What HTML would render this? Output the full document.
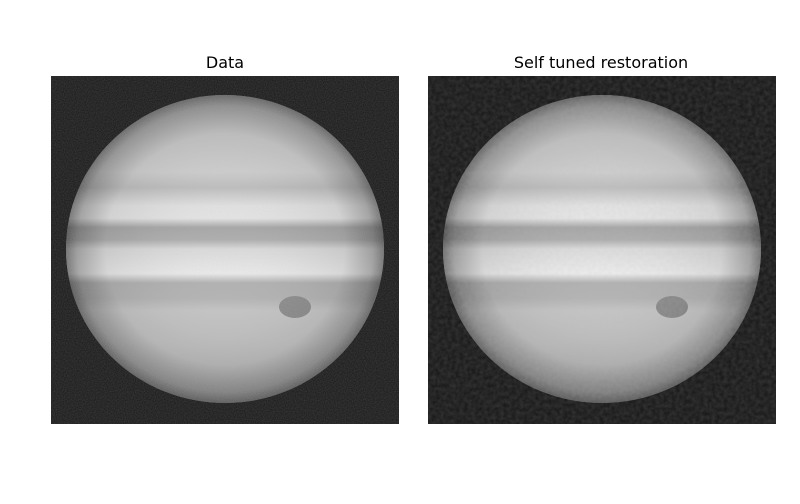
<!DOCTYPE html>
<html><head><meta charset="utf-8"><style>
body{margin:0;background:#fff;width:800px;height:500px;overflow:hidden;font-family:"DejaVu Sans",sans-serif}
</style></head><body>
<svg width="800" height="500" xmlns="http://www.w3.org/2000/svg">
<defs>
<radialGradient id="limb" cx="0.5" cy="0.5" r="0.5">
<stop offset="0" stop-color="#fff" stop-opacity="0"/>
<stop offset="0.75" stop-color="#000" stop-opacity="0.08"/>
<stop offset="0.93" stop-color="#000" stop-opacity="0.3"/>
<stop offset="1" stop-color="#000" stop-opacity="0.5"/>
</radialGradient>
<linearGradient id="bands" x1="0" y1="0" x2="0" y2="1">
<stop offset="0" stop-color="#c4c4c4"/>
<stop offset="0.25" stop-color="#d4d4d4"/>
<stop offset="0.30" stop-color="#c0c0c0"/>
<stop offset="0.36" stop-color="#e6e6e6"/>
<stop offset="0.40" stop-color="#e8e8e8"/>
<stop offset="0.43" stop-color="#a4a4a4"/>
<stop offset="0.47" stop-color="#acacac"/>
<stop offset="0.50" stop-color="#dcdcdc"/>
<stop offset="0.58" stop-color="#eeeeee"/>
<stop offset="0.61" stop-color="#b0b0b0"/>
<stop offset="0.66" stop-color="#b4b4b4"/>
<stop offset="0.70" stop-color="#c8c8c8"/>
<stop offset="0.80" stop-color="#c4c4c4"/>
<stop offset="1" stop-color="#b0b0b0"/>
</linearGradient>
<filter id="noise" x="0" y="0" width="100%" height="100%">
<feTurbulence type="fractalNoise" baseFrequency="0.9" numOctaves="1" seed="3"/>
<feColorMatrix type="matrix" values="0 0 0 0 0.5  0 0 0 0 0.5  0 0 0 0 0.5  0 0 0 0.25 0"/>
</filter>
<filter id="noise2" x="0" y="0" width="100%" height="100%">
<feTurbulence type="fractalNoise" baseFrequency="0.25" numOctaves="2" seed="7"/>
<feColorMatrix type="matrix" values="0 0 0 0 0.5  0 0 0 0 0.5  0 0 0 0 0.5  0 0 0 0.2 0"/>
</filter>
<g id="planet">
<rect x="0" y="0" width="348" height="348" fill="#151515"/>
<ellipse cx="174" cy="173" rx="159" ry="154" fill="url(#bands)"/>
<ellipse cx="244" cy="231" rx="16" ry="11" fill="#8a8a8a"/>
<ellipse cx="174" cy="173" rx="159" ry="154" fill="url(#limb)"/>
</g>
</defs>
<text x="225" y="68" text-anchor="middle" font-size="16" fill="#000">Data</text>
<text x="601" y="68" text-anchor="middle" font-size="16" fill="#000">Self tuned restoration</text>
<g transform="translate(51,76)">
<use href="#planet"/>
<rect width="348" height="348" filter="url(#noise)"/>
</g>
<g transform="translate(428,76)">
<use href="#planet"/>
<rect width="348" height="348" filter="url(#noise2)"/>
</g>
</svg>
</body></html>
